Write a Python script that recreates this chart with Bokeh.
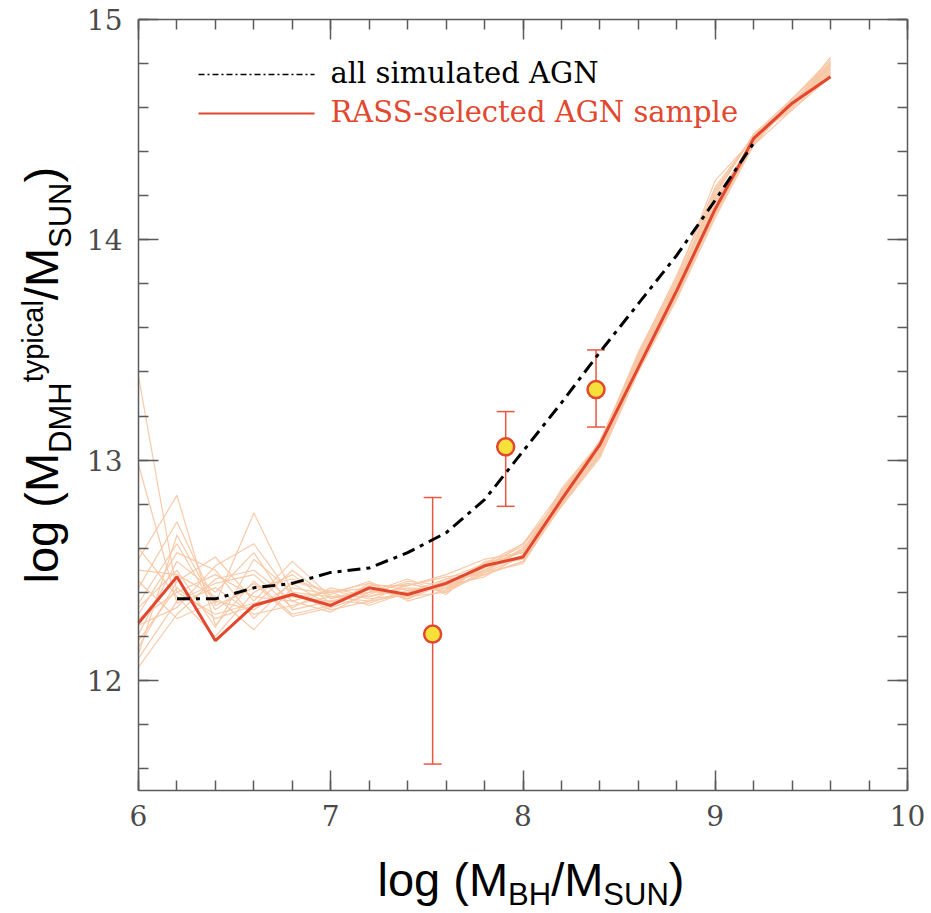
import math
from bokeh.plotting import figure
from bokeh.models import (Range1d, LinearAxis, SingleIntervalTicker, Label, Arrow,
                          ColumnDataSource, Whisker, TeeHead)
from bokeh.embed import file_html
from bokeh.resources import INLINE

# ---------------- data ----------------
mbh = [6.0, 6.2, 6.4, 6.6, 6.8, 7.0, 7.2, 7.4, 7.6, 7.8, 8.0, 8.2, 8.4, 8.6, 8.8, 9.0, 9.2, 9.4, 9.6]
rass_dmh = [12.26, 12.47, 12.18, 12.34, 12.39, 12.34, 12.42, 12.39, 12.44, 12.52, 12.56,
            12.82, 13.07, 13.42, 13.77, 14.14, 14.46, 14.62, 14.74]

all_mbh = [6.2, 6.4, 6.6, 6.8, 7.0, 7.2, 7.4, 7.6, 7.8, 8.0, 8.2, 8.4, 8.6, 8.8, 9.0, 9.2]
all_dmh = [12.37, 12.37, 12.42, 12.44, 12.49, 12.51, 12.58, 12.67, 12.82, 13.04, 13.26,
           13.49, 13.71, 13.93, 14.18, 14.44]

realizations = [
    [13.38, 12.40, 12.30, 12.35, 12.38, 12.36, 12.40, 12.40, 12.43, 12.50, 12.57, 12.82, 13.05, 13.45, 13.80, 14.18, 14.45, 14.62, 14.78],
    [12.98, 12.35, 12.42, 12.30, 12.34, 12.38, 12.38, 12.42, 12.41, 12.52, 12.55, 12.84, 13.08, 13.44, 13.78, 14.15, 14.47, 14.60, 14.80],
    [12.55, 12.84, 12.25, 12.45, 12.30, 12.34, 12.42, 12.38, 12.45, 12.49, 12.60, 12.80, 13.03, 13.42, 13.75, 14.12, 14.44, 14.63, 14.76],
    [12.42, 12.72, 12.35, 12.76, 12.40, 12.32, 12.36, 12.44, 12.40, 12.53, 12.58, 12.86, 13.06, 13.48, 13.82, 14.27, 14.46, 14.61, 14.83],
    [12.30, 12.58, 12.50, 12.28, 12.45, 12.40, 12.44, 12.37, 12.46, 12.48, 12.54, 12.79, 13.01, 13.40, 13.73, 14.10, 14.43, 14.59, 14.74],
    [12.21, 12.54, 12.40, 12.58, 12.32, 12.36, 12.35, 12.41, 12.42, 12.51, 12.62, 12.83, 13.09, 13.46, 13.79, 14.20, 14.48, 14.64, 14.81],
    [12.15, 12.45, 12.56, 12.36, 12.54, 12.38, 12.40, 12.46, 12.39, 12.54, 12.56, 12.81, 13.04, 13.43, 13.76, 14.14, 14.45, 14.62, 14.77],
    [12.06, 12.30, 12.46, 12.50, 12.36, 12.41, 12.37, 12.39, 12.44, 12.50, 12.59, 12.85, 13.07, 13.47, 13.81, 14.22, 14.47, 14.60, 14.79],
    [12.60, 12.38, 12.20, 12.40, 12.48, 12.35, 12.43, 12.43, 12.47, 12.49, 12.53, 12.80, 13.02, 13.41, 13.74, 14.11, 14.44, 14.63, 14.75],
    [12.50, 12.48, 12.38, 12.23, 12.42, 12.39, 12.45, 12.36, 12.41, 12.52, 12.61, 12.84, 13.06, 13.45, 13.77, 14.16, 14.46, 14.61, 14.80],
    [12.35, 12.62, 12.32, 12.44, 12.29, 12.33, 12.39, 12.45, 12.43, 12.47, 12.57, 12.82, 13.05, 13.44, 13.80, 14.19, 14.44, 14.64, 14.82],
    [12.25, 12.33, 12.52, 12.62, 12.38, 12.40, 12.34, 12.40, 12.46, 12.53, 12.55, 12.87, 13.08, 13.49, 13.83, 14.24, 14.47, 14.59, 14.76],
    [12.18, 12.42, 12.28, 12.34, 12.50, 12.37, 12.41, 12.38, 12.40, 12.50, 12.60, 12.79, 13.03, 13.42, 13.74, 14.13, 14.45, 14.62, 14.78],
    [12.10, 12.36, 12.44, 12.48, 12.33, 12.42, 12.38, 12.43, 12.48, 12.55, 12.58, 12.83, 13.06, 13.46, 13.78, 14.17, 14.46, 14.60, 14.77],
    [12.45, 12.28, 12.36, 12.32, 12.44, 12.34, 12.44, 12.41, 12.42, 12.48, 12.54, 12.81, 13.04, 13.43, 13.76, 14.12, 14.43, 14.63, 14.79],
    [12.33, 12.50, 12.24, 12.55, 12.40, 12.38, 12.36, 12.39, 12.45, 12.51, 12.59, 12.85, 13.07, 13.47, 13.81, 14.21, 14.48, 14.61, 14.81],
    [12.28, 12.40, 12.48, 12.38, 12.36, 12.31, 12.40, 12.44, 12.40, 12.49, 12.56, 12.80, 13.02, 13.44, 13.77, 14.15, 14.44, 14.62, 14.75],
    [12.12, 12.66, 12.34, 12.42, 12.46, 12.40, 12.42, 12.37, 12.44, 12.53, 12.62, 12.86, 13.08, 13.48, 13.84, 14.23, 14.47, 14.64, 14.80],
]

obs_mbh = [7.53, 7.91, 8.38]
obs_dmh = [12.21, 13.06, 13.32]
obs_upper = [12.83, 13.22, 13.50]
obs_lower = [11.62, 12.79, 13.15]

x_lim = (6, 10)
y_lim = (11.5, 15)
legend_labels = ["all simulated AGN", "RASS-selected AGN sample"]

# ---------------- styling / layout ----------------
W, H = 931, 913
FL, FR, FT, FB = 138, 907, 19, 790   # plot box edges in canvas pixels

# The Bokeh frame covers the whole canvas (so that titles are not clipped);
# the visible plot box is made of four axes pinned with fixed_location.
sx = (FR - FL) / (x_lim[1] - x_lim[0])
sy = (FB - FT) / (y_lim[1] - y_lim[0])
x_range = Range1d(x_lim[0] - FL / sx, x_lim[1] + (W - FR) / sx)
y_range = Range1d(y_lim[0] - (H - FB) / sy, y_lim[1] + FT / sy)

RED = "#e2472f"
PEACH = "#f8c7a4"
GRAY = "#5a5a5a"

p = figure(width=W, height=H, x_range=x_range, y_range=y_range,
           output_backend="svg", toolbar_location=None,
           min_border_left=0, min_border_right=0, min_border_top=0, min_border_bottom=0)
p.min_border = 0
p.grid.visible = False
p.background_fill_color = "white"
p.border_fill_color = "white"
p.outline_line_color = None


def style_axis(ax, show_labels, loc, bounds):
    ax.fixed_location = loc
    ax.bounds = bounds
    ax.ticker = SingleIntervalTicker(interval=1, num_minor_ticks=5)
    ax.axis_line_color = GRAY
    ax.axis_line_width = 1.5
    ax.major_tick_in = 20
    ax.major_tick_out = 0
    ax.minor_tick_in = 10
    ax.minor_tick_out = 0
    ax.major_tick_line_color = GRAY
    ax.minor_tick_line_color = GRAY
    ax.major_tick_line_width = 1.5
    ax.minor_tick_line_width = 1.5
    ax.major_label_text_font = "DejaVu Serif"
    ax.major_label_text_font_size = "28px"
    ax.major_label_text_color = "#4a4a4a" if show_labels else None


style_axis(p.xaxis[0], True, y_lim[0], x_lim)
style_axis(p.yaxis[0], True, x_lim[0], y_lim)
p.xaxis[0].major_label_standoff = 14
p.yaxis[0].major_label_standoff = 16

top_ax = LinearAxis()
right_ax = LinearAxis()
p.add_layout(top_ax, "above")
p.add_layout(right_ax, "right")
style_axis(top_ax, False, y_lim[1], x_lim)
style_axis(right_ax, False, x_lim[1], y_lim)

# ---------------- glyphs ----------------
p.multi_line(xs=[mbh] * len(realizations), ys=realizations,
             line_color=PEACH, line_width=1.2, line_alpha=0.95)
p.line(mbh, rass_dmh, line_color=RED, line_width=3)
p.line(all_mbh, all_dmh, line_color="black", line_width=3, line_dash="13 6 4 6")

src = ColumnDataSource(dict(x=obs_mbh, y=obs_dmh, upper=obs_upper, lower=obs_lower))
whisk = Whisker(base="x", upper="upper", lower="lower", source=src, dimension="height",
                line_color="#e8573f", line_width=1.5,
                upper_head=TeeHead(size=18, line_color="#e8573f", line_width=1.5),
                lower_head=TeeHead(size=18, line_color="#e8573f", line_width=1.5))
p.add_layout(whisk)
p.scatter("x", "y", source=src, size=17, fill_color="#f6e13a",
          line_color=RED, line_width=2.5)


# ---------------- text helpers (canvas pixel positions; frame == canvas) ----------------
SHIFT = 0.33   # empirical offset between Bokeh's anchor and the glyph baseline


def canvas_label(xc, yc, text, size, font="Liberation Sans", color="black", angle=0.0):
    if angle == 0.0:
        yc = yc - SHIFT * size
    else:
        xc = xc - SHIFT * size
    p.add_layout(Label(x=xc, y=H - yc, x_units="screen", y_units="screen",
                       text=text, text_font=font, text_font_size=f"{size}px",
                       text_color=color, text_align="left", text_baseline="alphabetic",
                       angle=angle))


ARIAL = {"l": 222, "o": 556, "g": 556, " ": 278, "(": 333, ")": 333, "M": 833, "B": 667,
         "H": 722, "/": 278, "S": 667, "U": 722, "N": 722, "D": 722, "t": 278, "y": 500,
         "p": 556, "i": 222, "c": 500, "a": 556}


def tw(s, size):
    return sum(ARIAL[c] for c in s) * size / 1000.0


FM, FS = 47, 31   # main and sub/superscript sizes

# x axis title: log (M_BH/M_SUN)
x0, base, sub = 377, 895, 904
for txt, sz, bl in [("log (M", FM, base), ("BH", FS, sub), ("/M", FM, base),
                    ("SUN", FS, sub), (")", FM, base)]:
    canvas_label(x0, bl, txt, sz)
    x0 += tw(txt, sz)

# y axis title (rotated): log (M_DMH^typical/M_SUN)
y0 = 583
ybase, ysub, ysup = 57, 70, 42
for txt, sz, bl in [("log (M", FM, ybase), ("DMH", FS, ysub), ("typical", 29, ysup),
                    ("/M", FM, ybase), ("SUN", FS, ysub), (")", FM, ybase)]:
    canvas_label(bl, y0, txt, sz, angle=math.pi / 2)
    y0 -= tw(txt, sz)

# legend
p.add_layout(Arrow(end=None, x_start=198, y_start=H - 74, x_end=314, y_end=H - 74,
                   start_units="screen", end_units="screen",
                   line_color="black", line_width=1.5, line_dash="6 3 2 3"))
p.add_layout(Arrow(end=None, x_start=198, y_start=H - 113, x_end=314, y_end=H - 113,
                   start_units="screen", end_units="screen",
                   line_color=RED, line_width=1.8))
canvas_label(330, 82, legend_labels[0], 29, font="DejaVu Serif", color="black")
canvas_label(330, 121, legend_labels[1], 29, font="DejaVu Serif", color=RED)

open("out.html", "w").write(file_html(p, INLINE))
